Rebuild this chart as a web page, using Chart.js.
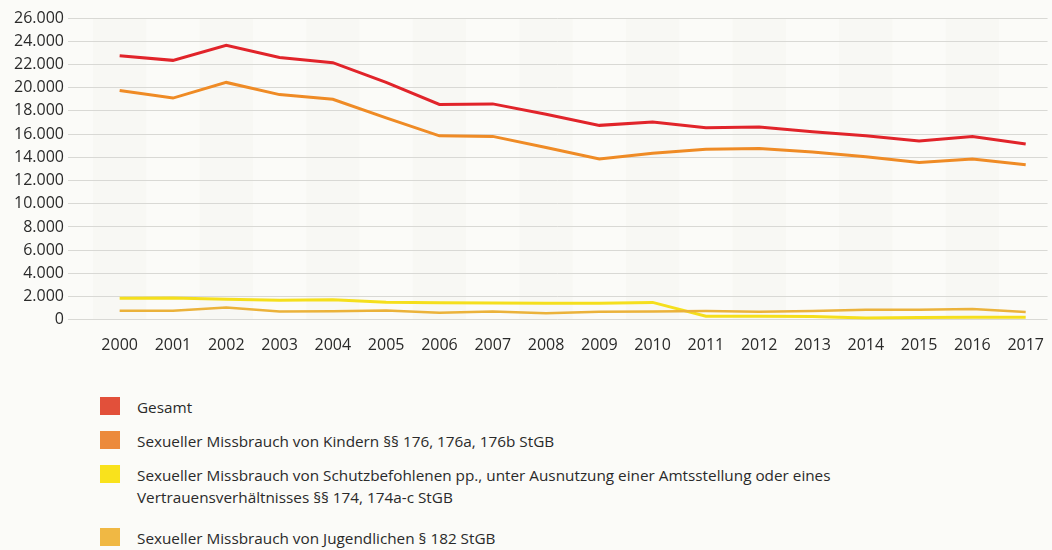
<!DOCTYPE html>
<html lang="de">
<head>
<meta charset="utf-8">
<script src="https://cdn.jsdelivr.net/npm/chart.js@4/dist/chart.umd.min.js"></script>
<style>
  html, body { margin: 0; padding: 0; background: #fbfbf8; }
  body { width: 1052px; height: 550px; position: relative; overflow: hidden; font-family: "Open Sans", sans-serif; color: #2a2a2a; }
  #wrap { position: absolute; left: 0; top: 0; width: 1052px; height: 363px; }
  #legend { position: absolute; left: 100px; top: 396px; font-size: 15.3px; line-height: 22px; }
  .item { display: flex; align-items: flex-start; margin-bottom: 12px; }
  .item.multi { margin-bottom: 19px; }
  .sw { width: 20px; height: 18px; margin-top: 1px; margin-right: 17px; flex: none; }
  .txt { white-space: pre-line; }
</style>
</head>
<body>
<div id="wrap"><canvas id="c"></canvas></div>
<div id="legend"></div>
<script>
const years = [2000,2001,2002,2003,2004,2005,2006,2007,2008,2009,2010,2011,2012,2013,2014,2015,2016,2017];
const seriesNames = [
  "Gesamt",
  "Sexueller Missbrauch von Kindern §§ 176, 176a, 176b StGB",
  "Sexueller Missbrauch von Schutzbefohlenen pp., unter Ausnutzung einer Amtsstellung oder eines\nVertrauensverhältnisses §§ 174, 174a-c StGB",
  "Sexueller Missbrauch von Jugendlichen § 182 StGB"
];
const gesamt      = [22750,22350,23650,22600,22150,20450,18550,18600,17700,16750,17050,16550,16600,16200,15850,15400,15800,15150];
const kinder      = [19750,19100,20450,19400,19000,17400,15850,15800,14850,13850,14350,14700,14750,14450,14050,13550,13850,13350];
const schutz      = [1850,1880,1780,1680,1720,1520,1470,1450,1420,1420,1500,300,300,280,160,200,220,210];
const jugendliche = [780,780,1060,720,740,800,600,720,560,700,720,760,700,760,860,860,920,680];
const yTicks = [0,2000,4000,6000,8000,10000,12000,14000,16000,18000,20000,22000,24000,26000];

const lineColors = ["#e1242a", "#ef8b25", "#f5df1c", "#ebb23a"];
const swatchColors = ["#e2503a", "#ec8a3c", "#f9e21c", "#f0b844"];
const lineWidths = [3, 3, 3, 2.5];
const seriesValues = [gesamt, kinder, schutz, jugendliche];

function fmt(v) {
  return String(v).replace(/\B(?=(\d{3})+(?!\d))/g, ".");
}

const bands = {
  id: "bands",
  beforeDraw(chart) {
    const { ctx, chartArea, scales } = chart;
    const x = scales.x;
    ctx.save();
    ctx.fillStyle = "rgba(120,120,100,0.022)";
    years.forEach((yr, i) => {
      if (i % 2 === 0) {
        const l = x.getPixelForValue(yr - 0.5);
        const r = x.getPixelForValue(yr + 0.5);
        ctx.fillRect(l, chartArea.top, r - l, chartArea.bottom - chartArea.top);
      }
    });
    ctx.restore();
  }
};

const datasets = seriesValues.map((vals, i) => ({
  label: seriesNames[i].replace("\n", " "),
  data: years.map((yr, k) => ({ x: yr, y: vals[k] })),
  borderColor: lineColors[i],
  backgroundColor: lineColors[i],
  borderWidth: lineWidths[i],
  pointRadius: 0,
  tension: 0,
  fill: false
})).reverse();

new Chart(document.getElementById("c"), {
  type: "line",
  data: { datasets },
  plugins: [bands],
  options: {
    responsive: true,
    maintainAspectRatio: false,
    animation: false,
    layout: { padding: { left: 10, right: 0, top: 18, bottom: 0 } },
    plugins: { legend: { display: false }, tooltip: { enabled: false } },
    scales: {
      x: {
        type: "linear",
        min: 1999.03,
        max: 2017.41,
        grid: { display: false },
        border: { display: false },
        afterBuildTicks(scale) { scale.ticks = years.map(v => ({ value: v })); },
        ticks: {
          autoSkip: false,
          maxRotation: 0,
          padding: 8,
          color: "#2a2a2a",
          font: { family: "Open Sans", size: 16 },
          callback: v => String(v)
        }
      },
      y: {
        min: 0,
        max: 26000,
        afterBuildTicks(scale) { scale.ticks = yTicks.map(v => ({ value: v })); },
        grid: { color: "#d9d9d5", lineWidth: 1, drawTicks: false },
        border: { display: false },
        ticks: {
          padding: 4,
          color: "#2a2a2a",
          font: { family: "Open Sans", size: 16 },
          callback: v => fmt(v)
        }
      }
    }
  }
});

const legend = document.getElementById("legend");
seriesNames.forEach((name, i) => {
  const item = document.createElement("div");
  item.className = "item" + (name.includes("\n") ? " multi" : "");
  const sw = document.createElement("div");
  sw.className = "sw";
  sw.style.background = swatchColors[i];
  const t = document.createElement("div");
  t.className = "txt";
  t.textContent = name;
  item.appendChild(sw);
  item.appendChild(t);
  legend.appendChild(item);
});
</script>
</body>
</html>
